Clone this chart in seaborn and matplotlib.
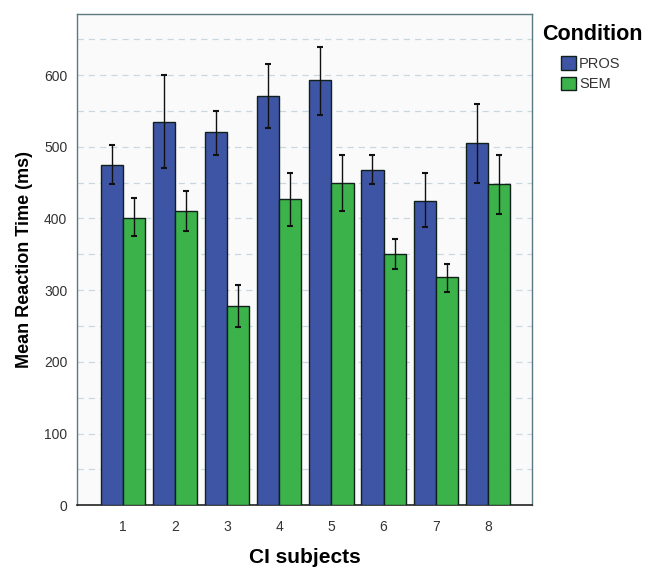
import numpy as np
import pandas as pd
import matplotlib
matplotlib.use("Agg")
import matplotlib.pyplot as plt
import seaborn as sns

subjects = ["1", "2", "3", "4", "5", "6", "7", "8"]
pros_mean = [475, 535, 520, 571, 593, 468, 425, 505]
pros_low = [448, 470, 489, 526, 545, 448, 388, 449]
pros_high = [502, 600, 550, 616, 639, 489, 463, 559]
sem_mean = [401, 410, 278, 427, 450, 350, 318, 448]
sem_low = [375, 383, 248, 390, 410, 330, 298, 406]
sem_high = [428, 438, 307, 463, 489, 372, 337, 489]

df = pd.DataFrame({
    "Subject": subjects * 2,
    "RT": pros_mean + sem_mean,
    "Condition": ["PROS"] * 8 + ["SEM"] * 8,
})

sns.set_style("white")
plt.rcParams["font.family"] = ["Liberation Sans", "DejaVu Sans"]
plt.rcParams["text.color"] = "black"
plt.rcParams["axes.labelcolor"] = "black"

fig = plt.figure(figsize=(6.61, 5.67), dpi=100)
ax = fig.add_axes([0.1165, 0.109, 0.6885, 0.866])
ax.set_facecolor("#fafafa")

palette = {"PROS": "#3e55a5", "SEM": "#3bb34a"}
sns.barplot(data=df, x="Subject", y="RT", hue="Condition", palette=palette,
            order=subjects, hue_order=["PROS", "SEM"], errorbar=None,
            width=0.85, edgecolor="#10201a", linewidth=1.0, saturation=1,
            ax=ax, zorder=3)

# error bars at bar centres
for cont, lo, hi in zip(ax.containers, [pros_low, sem_low], [pros_high, sem_high]):
    xs = [b.get_x() + b.get_width() / 2 for b in cont]
    mids = [(a + b) / 2 for a, b in zip(lo, hi)]
    half = [(b - a) / 2 for a, b in zip(lo, hi)]
    ax.errorbar(xs, mids, yerr=half, fmt="none", ecolor="#111111",
                elinewidth=1.0, capsize=2.5, capthick=1.5, zorder=4)

ax.set_ylim(0, 685)
ax.set_xlim(-0.88, 7.85)
ax.set_yticks([0, 100, 200, 300, 400, 500, 600])
ax.set_yticks(np.arange(50, 700, 100), minor=True)
ax.grid(axis="y", which="both", linestyle=(0, (5, 4)), color="#c9d8e0",
        linewidth=0.9, zorder=0)
ax.tick_params(axis="y", which="major", direction="out", length=4,
               width=1.2, color="#222222", labelsize=10, pad=3,
               labelcolor="#333333")
ax.tick_params(axis="x", which="major", direction="out", length=7,
               width=1.2, color="#222222", labelsize=10, pad=4,
               labelcolor="#333333")
ax.tick_params(axis="y", which="minor", length=0)

for side in ["top", "right", "left"]:
    ax.spines[side].set_color("#5a7a80")
    ax.spines[side].set_linewidth(1.0)
ax.spines["bottom"].set_color("#222222")
ax.spines["bottom"].set_linewidth(1.2)

ax.set_xlabel("CI subjects", fontsize=15, fontweight="bold", labelpad=10)
ax.set_ylabel("Mean Reaction Time (ms)", fontsize=13, fontweight="bold", labelpad=8)

# legend: title on its own, entries indented beneath it
fig.text(542 / 661, 1 - 35 / 567, "Condition", fontsize=15.5, fontweight="bold",
         ha="left", va="center")
leg = ax.legend(loc="upper left", bbox_to_anchor=(561 / 661, 1 - 56 / 567),
                bbox_transform=fig.transFigure, frameon=False, fontsize=10.5,
                handlelength=1.0, handleheight=1.05, handletextpad=0.25,
                borderaxespad=0, borderpad=0, labelspacing=0.4)
for t in leg.get_texts():
    t.set_color("#333333")

fig.savefig("out.png", dpi=100)
